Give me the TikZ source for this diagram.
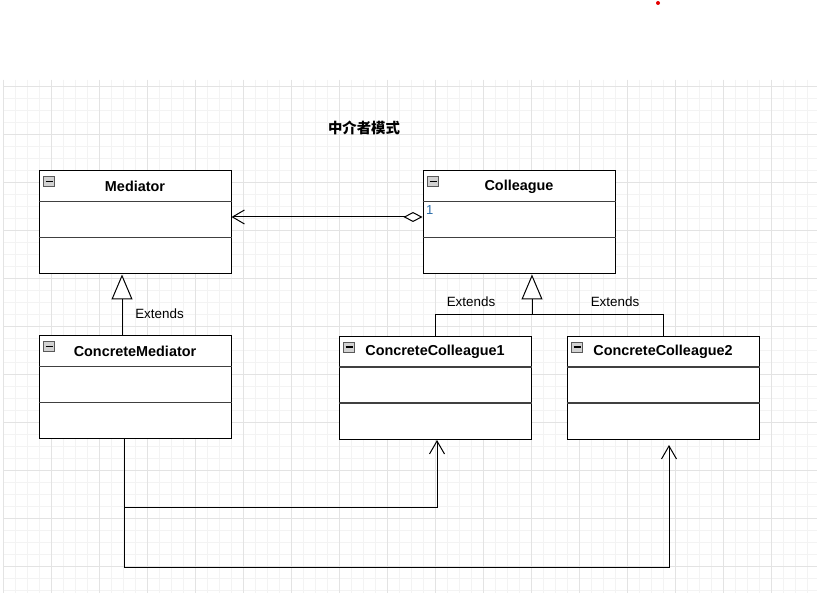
\documentclass[tikz,border=0pt]{standalone}
\usepackage{fontspec}
\setmainfont{Liberation Sans}
\newfontfamily\cjk{Noto Sans CJK SC}
\usepackage{xcolor}
\usetikzlibrary{arrows.meta}
\usetikzlibrary{positioning}
\usetikzlibrary{calc}
\definecolor{gridminor}{HTML}{F3F3F3}
\definecolor{gridmajor}{HTML}{E3E3E3}
\definecolor{multblue}{HTML}{2B6CA8}

\tikzset{
  classbox/.style={draw, line width=1pt, fill=white, minimum width=192pt, minimum height=103pt, inner sep=0pt},
  classname/.style={font=\fontsize{14.4}{17}\selectfont\bfseries, inner sep=0pt},
  divider/.style={draw=black!75, line width=1.3pt},
  iconbox/.style={draw=gray!70!black, fill=gray!35, line width=0.8pt},
  conn/.style={line width=1pt},
  extends/.style={conn, -{Triangle[open, fill=white, length=25pt, width=21pt]}},
  uses/.style={conn, -{Straight Barb[length=13pt, width=15pt]}},
  aggline/.style={conn, {Diamond[open, fill=white, length=19pt, width=10pt]}-{Straight Barb[length=12pt, width=14pt]}},
  lbl/.style={font=\fontsize{13.4}{16}\selectfont, inner sep=0pt},
}

\begin{document}
\begin{tikzpicture}[x=1pt, y=-1pt]
	\useasboundingbox (0,0) rectangle (817,593);
	\fill[white] (0,0) rectangle (817,593);
	%grid
	\foreach \x in {3,15,...,817} \draw[gridminor] (\x,80) -- (\x,593);
	\foreach \y in {86,98,...,593} \draw[gridminor] (3,\y) -- (817,\y);
	\foreach \x in {3,51,...,817} \draw[gridmajor] (\x,80) -- (\x,593);
	\foreach \y in {86,134,...,593} \draw[gridmajor] (3,\y) -- (817,\y);
	\fill[red!90!black] (658,3) circle (2);
	%title
	\node[font=\cjk\bfseries\fontsize{14.4}{17}\selectfont] (title) at (364,128) {中介者模式};
	%classes
	\node[classbox] (med) at (135,222.5) {};
	\node[classbox] (col) at (519,222.5) {};
	\node[classbox] (cmed) at (135,387.5) {};
	\node[classbox] (cc1) at (435,388) {};
	\node[classbox] (cc2) at (663,388) {};
	\foreach \c/\t in {med/Mediator, col/Colleague, cmed/ConcreteMediator, cc1/ConcreteColleague1, cc2/ConcreteColleague2} {
		\draw[divider] ($(\c.north west)+(0,31)$) -- ($(\c.north east)+(0,31)$);
		\draw[divider] ($(\c.north west)+(0,67)$) -- ($(\c.north east)+(0,67)$);
		\draw[iconbox] ($(\c.north west)+(5,6)$) rectangle ++(11,10);
		\draw[line width=1.3pt] ($(\c.north west)+(7,11)$) -- ++(7,0);
		\node[classname] (\c-name) at ($(\c.north)+(0,16)$) {\t};
	}
	%aggregation
	\draw[aggline] ($(col.west)+(0,-5.5)$) -- ($(med.east)+(0,-5.5)$);
	\node[font=\fontsize{13}{15}\selectfont, text=multblue, inner sep=0pt, anchor=west] (mult) at (426,210) {1};
	%extends
	\draw[extends] ($(cmed.north)+(-13,0)$) -- ($(med.south)+(-13,0)$);
	\node[lbl] (ext1) at (159.5,314) {Extends};
	\coordinate (join) at ($(col.south)+(13,40)$);
	\draw[conn] (cc1.north) |- (join) -| (cc2.north);
	\draw[extends] (join) -- ($(col.south)+(13,0)$);
	\node[lbl] (ext2) at (471,302) {Extends};
	\node[lbl] (ext3) at (615,302) {Extends};
	%dependencies
	\coordinate (fork) at ($(cmed.south)+(-11,68)$);
	\draw[conn] ($(cmed.south)+(-11,0)$) -- (fork);
	\draw[uses] (fork) -| ($(cc1.south)+(2,0)$);
	\draw[uses] (fork) -- ++(0,60) -| ($(cc2.south)+(6,5)$);
\end{tikzpicture}
\end{document}
